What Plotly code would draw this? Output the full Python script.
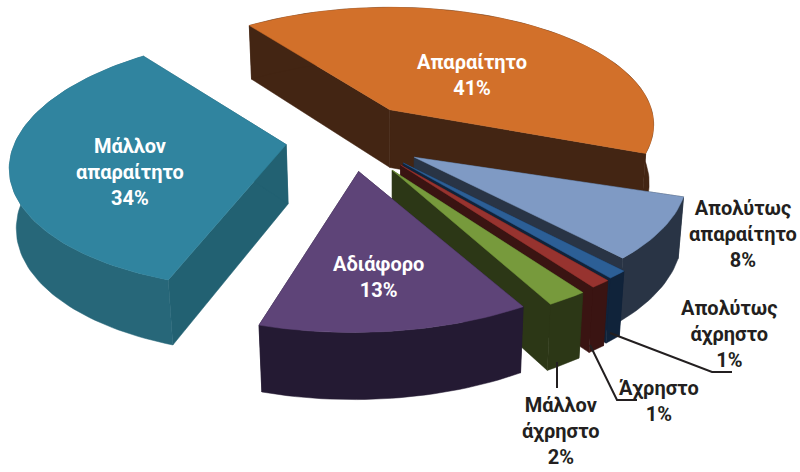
import math
import plotly.graph_objects as go

# --- data ---
categories = ["Απαραίτητο", "Απολύτως απαραίτητο", "Απολύτως άχρηστο", "Άχρηστο",
              "Μάλλον άχρηστο", "Αδιάφορο", "Μάλλον απαραίτητο"]
values = [41, 8, 1, 1, 2, 13, 34]

# --- styles ---
top_colors = ["#D2702A", "#7F9AC4", "#2C5F96", "#97332F", "#779A3C", "#5E4478", "#30849F"]
wall_colors = ["#432513", "#293445", "#10233A", "#3A1412", "#2C3716", "#241A33", "#276779"]
cut_colors = ["#432513", "#293445", "#10233A", "#3A1412", "#2C3716", "#241A33", "#226172"]
explode = [(-0.02, 0.45), (0.07, 0.06), (0.03, 0.015), (0.02, 0.0),
           (-0.01, -0.04), (-0.13, -0.05), (-0.40, 0.16)]
radius_scale = [1.0, 0.98, 1.03, 1.03, 1.02, 1.04, 1.0]
angle_shift = [-3.5, 0.0, 0.0, 0.0, 0.0, 1.5, -1.5]
draw_order = [0, 6, 1, 2, 3, 4, 5]

# --- view ---
CX, CY, R = 395.0, 165.0, 278.0
TILT = math.radians(28)
D = 6.4
H = 0.25
START = 130.0


def project(x, y, z):
    k = D / (D + y * math.cos(TILT) - z * math.sin(TILT))
    return (CX + R * x * k,
            CY - R * k * (y * math.sin(TILT) + z * math.cos(TILT)))


def poly(points3d, color, fig):
    pts = [project(*p) for p in points3d]
    xs = [p[0] for p in pts] + [pts[0][0]]
    ys = [p[1] for p in pts] + [pts[0][1]]
    fig.add_trace(go.Scatter(x=xs, y=ys, mode="lines", fill="toself", fillcolor=color,
                             line=dict(color=color, width=0.5), hoverinfo="skip",
                             showlegend=False))


fig = go.Figure()
total = sum(values)
spans = []
a = START
for v in values:
    b = a - 360.0 * v / total
    spans.append((a, b))
    a = b

for i in draw_order:
    a0, a1 = spans[i]
    a0 += angle_shift[i]
    a1 += angle_shift[i]
    ox, oy = explode[i]
    rs = radius_scale[i]
    n = max(4, int(abs(a1 - a0) / 1.5))
    arc = [(ox + rs * math.cos(math.radians(a0 + (a1 - a0) * t / n)),
            oy + rs * math.sin(math.radians(a0 + (a1 - a0) * t / n))) for t in range(n + 1)]
    # radial cut faces
    for ex, ey in (arc[0], arc[-1]):
        poly([(ox, oy, 0), (ex, ey, 0), (ex, ey, -H), (ox, oy, -H)], cut_colors[i], fig)
    # outer wall
    poly([(x, y, 0) for x, y in arc] + [(x, y, -H) for x, y in reversed(arc)], wall_colors[i], fig)
    # top face
    poly([(ox, oy, 0)] + [(x, y, 0) for x, y in arc], top_colors[i], fig)

# leader lines
leaders = [([610, 333, 712, 372, 732, 372]),
           ([590, 345, 617, 400, 637, 400]),
           ([557, 362, 557, 388])]
for l in leaders:
    fig.add_trace(go.Scatter(x=l[0::2], y=l[1::2], mode="lines",
                             line=dict(color="#231F20", width=2), hoverinfo="skip",
                             showlegend=False))

labels = [
    ("Απαραίτητο<br>41%", 472, 75, "white"),
    ("Μάλλον<br>απαραίτητο<br>34%", 130, 172, "white"),
    ("Αδιάφορο<br>13%", 378, 277, "white"),
    ("Απολύτως<br>απαραίτητο<br>8%", 743, 234, "#231F20"),
    ("Απολύτως<br>άχρηστο<br>1%", 729, 334, "#231F20"),
    ("Άχρηστο<br>1%", 659, 401, "#231F20"),
    ("Μάλλον<br>άχρηστο<br>2%", 561, 431, "#231F20"),
]
for text, x, y, color in labels:
    fig.add_annotation(x=x, y=y, text=f"<b>{text}</b>", showarrow=False, align="center",
                       font=dict(family="Roboto", size=20, color=color))

fig.update_layout(
    width=800, height=472, margin=dict(l=0, r=0, t=0, b=0),
    paper_bgcolor="white", plot_bgcolor="white", showlegend=False,
    xaxis=dict(range=[0, 800], visible=False, fixedrange=True),
    yaxis=dict(range=[472, 0], visible=False, fixedrange=True),
)
fig.write_html("out.html", config={"displayModeBar": False},
               post_script="document.body.style.margin='0';document.body.style.overflow='hidden';")
